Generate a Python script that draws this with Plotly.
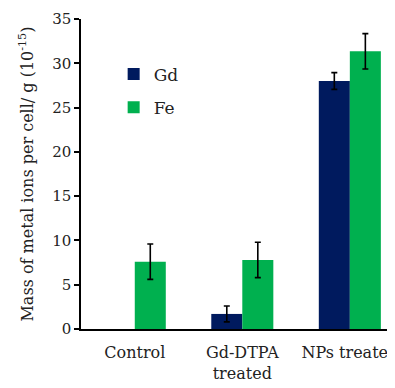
import plotly.graph_objects as go

categories = ["Control", "Gd-DTPA<br>treated", "NPs treated"]
gd_values = [None, 1.7, 28.0]
gd_errors = [None, 0.9, 0.95]
fe_values = [7.6, 7.8, 31.35]
fe_errors = [2.0, 2.0, 2.0]
y_ticks = [0, 5, 10, 15, 20, 25, 30, 35]

FONT = "DejaVu Serif"

fig = go.Figure()
fig.add_trace(go.Bar(
    x=categories, y=gd_values, name="Gd", legendgroup="a",
    marker=dict(color="#001a5e", line=dict(width=0)),
    error_y=dict(type="data", array=gd_errors, visible=True, color="black",
                 thickness=1.6, width=3),
))
fig.add_trace(go.Bar(
    x=categories, y=fe_values, name="Fe", legendgroup="b",
    marker=dict(color="#00b04f", line=dict(width=0)),
    error_y=dict(type="data", array=fe_errors, visible=True, color="black",
                 thickness=1.6, width=3),
))

fig.update_layout(
    width=387, height=380,
    margin=dict(l=73, r=0, t=11, b=59),
    paper_bgcolor="white", plot_bgcolor="white",
    barmode="group", bargap=0.423, bargroupgap=0,
    font=dict(family=FONT, size=15, color="#222"),
    legend=dict(x=0.104, y=0.879, xanchor="left", yanchor="top",
                bgcolor="rgba(0,0,0,0)", tracegroupgap=8,
                font=dict(family=FONT, size=17, color="#222")),
    xaxis=dict(range=[-0.5, 2.42], showline=True, linecolor="black", linewidth=1.5,
               ticks="", showgrid=False, automargin=False, ticklabelstandoff=8,
               tickfont=dict(family=FONT, size=16)),
    yaxis=dict(range=[0, 35], tickvals=y_ticks, showline=True, linecolor="black",
               linewidth=1.5, ticks="outside", ticklen=5, tickwidth=1.5,
               tickcolor="black", showgrid=False, zeroline=False, automargin=False,
               tickfont=dict(family=FONT, size=15),
               title=dict(text="Mass of metal ions per cell/ g (10<sup>-15</sup>)",
                          font=dict(family=FONT, size=16), standoff=15)),
)

fig.write_html("out.html")
